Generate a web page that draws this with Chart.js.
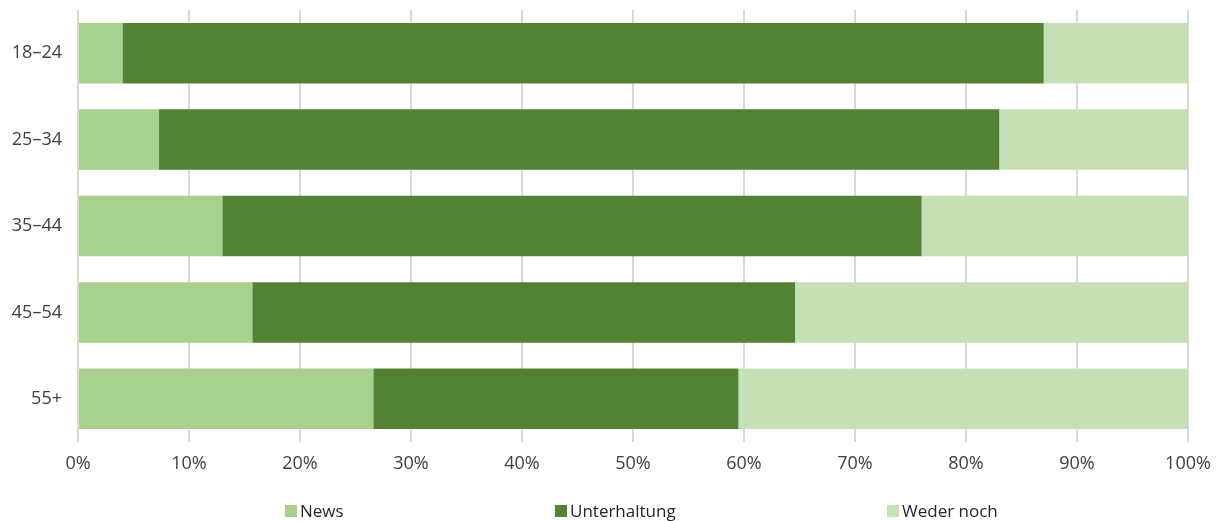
<!DOCTYPE html>
<html>
<head>
<meta charset="utf-8">
<script src="https://cdn.jsdelivr.net/npm/chart.js@4/dist/chart.umd.min.js"></script>
<style>
  html, body { margin: 0; padding: 0; background: #fff; }
  #wrap { position: relative; width: 1220px; height: 521px; overflow: hidden; }
  #legend { position: absolute; left: 0; top: 499px; width: 1220px; height: 24px;
            font-family: "Open Sans", sans-serif; font-size: 17px; color: #262626; }
  .item { position: absolute; top: 0; display: flex; align-items: center; white-space: nowrap; }
  .box { width: 12px; height: 12px; margin-right: 3px; }
</style>
</head>
<body>
<div id="wrap">
  <canvas id="chart" width="1220" height="521"></canvas>
  <div id="legend"></div>
</div>
<script>
// age groups and share of each answer, in percent
const ageGroups = ['18–24', '25–34', '35–44', '45–54', '55+'];
const news = [4, 7.3, 13, 15.7, 26.6];
const unterhaltung = [83, 75.7, 63, 48.9, 32.9];
const wederNoch = [13, 17, 24, 35.4, 40.5];
const xTickLabels = ['0%', '10%', '20%', '30%', '40%', '50%', '60%', '70%', '80%', '90%', '100%'];
const seriesNames = ['News', 'Unterhaltung', 'Weder noch'];

const colors = ['#a9d18e', '#548235', '#c5e0b4'];
const legendLeft = [285, 555, 887];

document.addEventListener('DOMContentLoaded', function () {
    const ctx = document.getElementById('chart').getContext('2d');
    const series = [news, unterhaltung, wederNoch];

    const chart = new Chart(ctx, {
        type: 'bar',
        data: {
            labels: ageGroups,
            datasets: series.map((values, i) => ({
                label: seriesNames[i],
                data: values,
                backgroundColor: colors[i],
                borderWidth: 0,
                categoryPercentage: 1,
                barPercentage: 0.7
            }))
        },
        options: {
            indexAxis: 'y',
            responsive: false,
            animation: false,
            layout: { padding: { top: 10, right: 32, bottom: 39, left: 0 } },
            plugins: {
                legend: { display: false },
                tooltip: { enabled: false }
            },
            scales: {
                x: {
                    stacked: true,
                    min: 0,
                    max: 100,
                    ticks: {
                        stepSize: 10,
                        padding: 11,
                        color: '#404040',
                        font: { family: 'Open Sans', size: 18 },
                        callback: (v) => xTickLabels[Math.round(v / 10)]
                    },
                    grid: { color: '#d9d9d9', lineWidth: 2, drawTicks: false },
                    border: { display: false },
                    afterFit: (s) => { s.height = 40; s.paddingLeft = 0; s.paddingRight = 0; }
                },
                y: {
                    stacked: true,
                    ticks: {
                        padding: 16,
                        color: '#404040',
                        font: { family: 'Open Sans', size: 18 }
                    },
                    grid: { display: false, drawTicks: false },
                    border: { display: false },
                    afterFit: (s) => { s.width = 78; s.paddingTop = 0; s.paddingBottom = 0; }
                }
            }
        }
    });

    // legend row under the axis
    const legend = document.getElementById('legend');
    chart.data.datasets.forEach((ds, i) => {
        const item = document.createElement('div');
        item.className = 'item';
        item.style.left = legendLeft[i] + 'px';
        const box = document.createElement('span');
        box.className = 'box';
        box.style.background = ds.backgroundColor;
        const text = document.createElement('span');
        text.textContent = ds.label;
        item.appendChild(box);
        item.appendChild(text);
        legend.appendChild(item);
    });
});
</script>
</body>
</html>
